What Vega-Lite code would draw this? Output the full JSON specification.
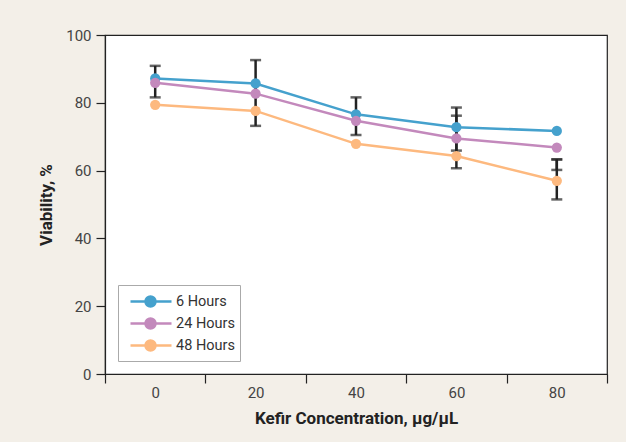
{
  "$schema": "https://vega.github.io/schema/vega-lite/v6.json",
  "width": 502,
  "height": 339,
  "autosize": "none",
  "padding": {"left": 105, "top": 35, "right": 19, "bottom": 68},
  "background": "#f3efe8",
  "config": {
    "view": {"fill": "white", "stroke": "#222", "strokeWidth": 1.2},
    "axis": {
      "grid": false,
      "domainColor": "#222",
      "domainWidth": 1.2,
      "tickColor": "#222",
      "tickWidth": 1.2,
      "tickSize": 9,
      "labelFont": "Roboto",
      "labelFontSize": 15,
      "labelColor": "#444",
      "titleFont": "Roboto",
      "titleFontWeight": "bold",
      "titleFontSize": 17,
      "titleColor": "#222",
      "titlePadding": 10
    },
    "legend": {
      "symbolType": "M-0.4,0H3.7M2.1,0A0.5,0.5,0,1,1,1.1,0A0.5,0.5,0,1,1,2.1,0Z",
      "symbolSize": 400,
      "symbolStrokeWidth": 2.5,
      "labelFont": "Roboto",
      "labelFontSize": 14.5,
      "labelColor": "#333",
      "labelOffset": 30,
      "padding": 5,
      "rowPadding": 0,
      "strokeColor": "#aaaaaa",
      "fillColor": "white",
      "orient": "none",
      "legendX": 13,
      "legendY": 250
    }
  },
  "datasets": {
    "pts": [
      {"conc": 0, "series": "6 Hours", "v": 87.2},
      {"conc": 20, "series": "6 Hours", "v": 85.7},
      {"conc": 40, "series": "6 Hours", "v": 76.6},
      {"conc": 60, "series": "6 Hours", "v": 72.8},
      {"conc": 80, "series": "6 Hours", "v": 71.7},
      {"conc": 0, "series": "24 Hours", "v": 85.9},
      {"conc": 20, "series": "24 Hours", "v": 82.7},
      {"conc": 40, "series": "24 Hours", "v": 74.7},
      {"conc": 60, "series": "24 Hours", "v": 69.5},
      {"conc": 80, "series": "24 Hours", "v": 66.8},
      {"conc": 0, "series": "48 Hours", "v": 79.4},
      {"conc": 20, "series": "48 Hours", "v": 77.6},
      {"conc": 40, "series": "48 Hours", "v": 67.9},
      {"conc": 60, "series": "48 Hours", "v": 64.3},
      {"conc": 80, "series": "48 Hours", "v": 57.0}
    ],
    "err": [
      {"conc": 0, "lo": 81.6, "hi": 90.9},
      {"conc": 20, "lo": 73.2, "hi": 92.6},
      {"conc": 40, "lo": 70.5, "hi": 81.6},
      {"conc": 60, "lo": 65.9, "hi": 78.6},
      {"conc": 60, "lo": 60.7, "hi": 76.2},
      {"conc": 80, "lo": 51.5, "hi": 63.3},
      {"conc": 80, "lo": 60.2, "hi": 63.3}
    ]
  },
  "layer": [
    {
      "data": {"name": "err"},
      "mark": {"type": "rule", "color": "#222", "strokeWidth": 2.5},
      "encoding": {
        "x": {"field": "conc", "type": "quantitative"},
        "y": {"field": "lo", "type": "quantitative"},
        "y2": {"field": "hi"}
      }
    },
    {
      "data": {"name": "err"},
      "mark": {"type": "tick", "orient": "horizontal", "color": "#222", "size": 11, "thickness": 2.5},
      "encoding": {
        "x": {"field": "conc", "type": "quantitative"},
        "y": {"field": "lo", "type": "quantitative"}
      }
    },
    {
      "data": {"name": "err"},
      "mark": {"type": "tick", "orient": "horizontal", "color": "#222", "size": 11, "thickness": 2.5},
      "encoding": {
        "x": {"field": "conc", "type": "quantitative"},
        "y": {"field": "hi", "type": "quantitative"}
      }
    },
    {
      "data": {"name": "pts"},
      "mark": {"type": "line", "strokeWidth": 2.5},
      "encoding": {
        "x": {"field": "conc", "type": "quantitative"},
        "y": {"field": "v", "type": "quantitative"},
        "color": {"field": "series", "type": "nominal"}
      }
    },
    {
      "data": {"name": "pts"},
      "mark": {"type": "point", "filled": true, "size": 105, "opacity": 1},
      "encoding": {
        "x": {
          "field": "conc",
          "type": "quantitative",
          "scale": {"domain": [-10, 90], "nice": false, "zero": false},
          "axis": {
            "values": [-10, 0, 10, 20, 30, 40, 50, 60, 70, 80, 90],
            "labelExpr": "datum.value % 20 === 0 ? datum.label : ''",
            "tickOpacity": {"condition": {"test": "datum.value % 20 === 0", "value": 0}, "value": 1},
            "labelFlush": false,
            "labelOverlap": false,
            "labelPadding": 2,
            "title": "Kefir Concentration, µg/µL"
          }
        },
        "y": {
          "field": "v",
          "type": "quantitative",
          "scale": {"domain": [0, 100], "nice": false},
          "axis": {
            "values": [0, 20, 40, 60, 80, 100],
            "labelPadding": 5,
            "title": "Viability, %"
          }
        },
        "color": {
          "field": "series",
          "type": "nominal",
          "scale": {"domain": ["6 Hours", "24 Hours", "48 Hours"], "range": ["#45a1cd", "#c389bc", "#fdb97f"]},
          "legend": {
            "title": null,
            "encode": {
              "symbols": {
                "update": {
                  "fill": {"scale": "color", "field": "value"},
                  "stroke": {"scale": "color", "field": "value"}
                }
              }
            }
          }
        }
      }
    }
  ]
}
